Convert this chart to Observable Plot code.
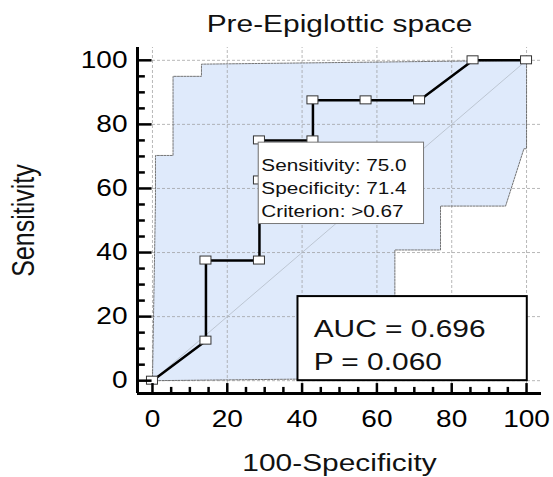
<!DOCTYPE html>
<html><head><meta charset="utf-8">
<script src="https://cdn.jsdelivr.net/npm/d3@7"></script>
<script src="https://cdn.jsdelivr.net/npm/@observablehq/plot@0.6"></script>
<style>body{margin:0;background:#fff} svg{display:block}</style>
</head><body><div id="chart"></div>
<script>
const title = "Pre-Epiglottic space";
const xLabel = "100-Specificity";
const yLabel = "Sensitivity";
// ROC curve (100-Specificity, Sensitivity)
const rocFpr = [0, 14.3, 14.3, 28.6, 28.6, 28.6, 42.9, 42.9, 57.1, 71.4, 85.7, 100];
const rocTpr = [0, 12.5, 37.5, 37.5, 62.5, 75, 75, 87.5, 87.5, 87.5, 100, 100];
// 95% confidence band
const upperX = [0, 0.8, 0.8, 5.5, 5.5, 13.1, 13.1, 100];
const upperY = [0, 56, 70.3, 70.3, 95, 95, 98.8, 100];
const lowerX = [0, 64.8, 64.8, 77, 77, 94.4, 99.3, 100, 100];
const lowerY = [0, 0.8, 40.8, 40.8, 54.5, 54.5, 72.4, 72.4, 100];
const diagonal = [0, 100];
const tickValues = [0, 20, 40, 60, 80, 100];
const minorTicks = [5, 10, 15, 25, 30, 35, 45, 50, 55, 65, 70, 75, 85, 90, 95];
const tooltipLines = ["Sensitivity: 75.0", "Specificity: 71.4", "Criterion: >0.67"];
const aucLines = ["AUC = 0.696", "P = 0.060"];

const lo = -4, hi = 104;
const roc = rocFpr.map((x, i) => ({x, y: rocTpr[i]}));
const upper = upperX.map((x, i) => ({x, y: upperY[i]}));
const lower = lowerX.map((x, i) => ({x, y: lowerY[i]}));
const band = [...upper, ...lower.slice().reverse()];

const plot = Plot.plot({
  width: 553, height: 477,
  marginLeft: 137, marginRight: 12, marginTop: 47, marginBottom: 84,
  x: {domain: [lo, hi]},
  y: {domain: [lo, hi]},
  style: {fontFamily: "'Liberation Sans', Arial, sans-serif", background: "#fff", color: "#000", overflow: "visible"},
  marks: [
    Plot.line(band, {x: "x", y: "y", fill: "#dfeafb", stroke: "none"}),
    Plot.ruleX(tickValues, {y1: lo, y2: hi, stroke: "#999", strokeWidth: 0.7, strokeDasharray: "3,2"}),
    Plot.ruleY(tickValues, {x1: lo, x2: hi, stroke: "#999", strokeWidth: 0.7, strokeDasharray: "3,2"}),
    Plot.line(upper, {x: "x", y: "y", stroke: "#666", strokeWidth: 0.9, strokeDasharray: "2,1.2"}),
    Plot.line(lower, {x: "x", y: "y", stroke: "#666", strokeWidth: 0.9, strokeDasharray: "2,1.2"}),
    Plot.line(diagonal, {x: d => d, y: d => d, stroke: "#b4bcc8", strokeWidth: 0.8}),
    Plot.line(roc, {x: "x", y: "y", stroke: "#000", strokeWidth: 2.5}),
    Plot.rect(roc, {x1: "x", x2: "x", y1: "y", y2: "y", insetLeft: -5.5, insetRight: -5.5, insetTop: -4, insetBottom: -4, fill: "#fff", stroke: "#333", strokeWidth: 1}),
    Plot.rect([0], {x1: 28.4, x2: 72.6, y1: 48.9, y2: 74.3, fill: "#fff", stroke: "#777", strokeWidth: 1}),
    Plot.text([tooltipLines.join("\n")], {x: 29.1, y: 70.4, text: d => d, textAnchor: "start", lineAnchor: "top", fontSize: 17, lineHeight: 1.34, fill: "#111"}),
    Plot.rect([0], {x1: 38.9, x2: 100.2, y1: 0, y2: 26.25, fill: "#fff", stroke: "#000", strokeWidth: 2}),
    Plot.text([aucLines.join("\n")], {x: 43.1, y: 21.06, text: d => d, textAnchor: "start", lineAnchor: "top", fontSize: 24.5, lineHeight: 1.36, fill: "#111"}),
    // axes
    Plot.ruleY([lo], {stroke: "#000", strokeWidth: 3}),
    Plot.ruleX([lo], {stroke: "#000", strokeWidth: 3}),
    Plot.ruleX(tickValues, {y1: lo, y2: -0.9, stroke: "#000", strokeWidth: 2.5}),
    Plot.ruleX(minorTicks, {y1: lo, y2: -2.1, stroke: "#000", strokeWidth: 2.5}),
    Plot.ruleY(tickValues, {x1: lo, x2: -0.1, stroke: "#000", strokeWidth: 2.5}),
    Plot.ruleY(minorTicks, {x1: lo, x2: -1.9, stroke: "#000", strokeWidth: 2.5}),
    Plot.axisX(tickValues, {tickSize: 0, tickPadding: 17, fontSize: 23, label: null}),
    Plot.axisY(tickValues, {tickSize: 0, tickPadding: 10, fontSize: 23, label: null}),
    Plot.text([title], {frameAnchor: "top", dy: -15.3, lineAnchor: "bottom", textAnchor: "middle", fontSize: 24.5, fill: "#111"}),
    Plot.text([xLabel], {frameAnchor: "bottom", dy: 77, lineAnchor: "bottom", textAnchor: "middle", fontSize: 24.5, fill: "#111"}),
    Plot.text([yLabel], {frameAnchor: "left", dx: -104, rotate: -90, lineAnchor: "bottom", textAnchor: "middle", fontSize: 25, fill: "#111"})
  ]
});

// the reference's lettering is drawn horizontally wider than the font
const s = 1.22;
plot.querySelectorAll("text").forEach(t => {
  const tr = t.getAttribute("transform") || "";
  const x = parseFloat(t.getAttribute("x")) || 0;
  const rotated = /rotate/.test(tr);
  const sc = rotated ? `scale(1,${s})` : `scale(${s},1)`;
  t.setAttribute("transform", `${tr} translate(${x},0) ${sc} translate(${-x},0)`.trim());
});
document.getElementById("chart").appendChild(plot);
</script>
</body></html>
